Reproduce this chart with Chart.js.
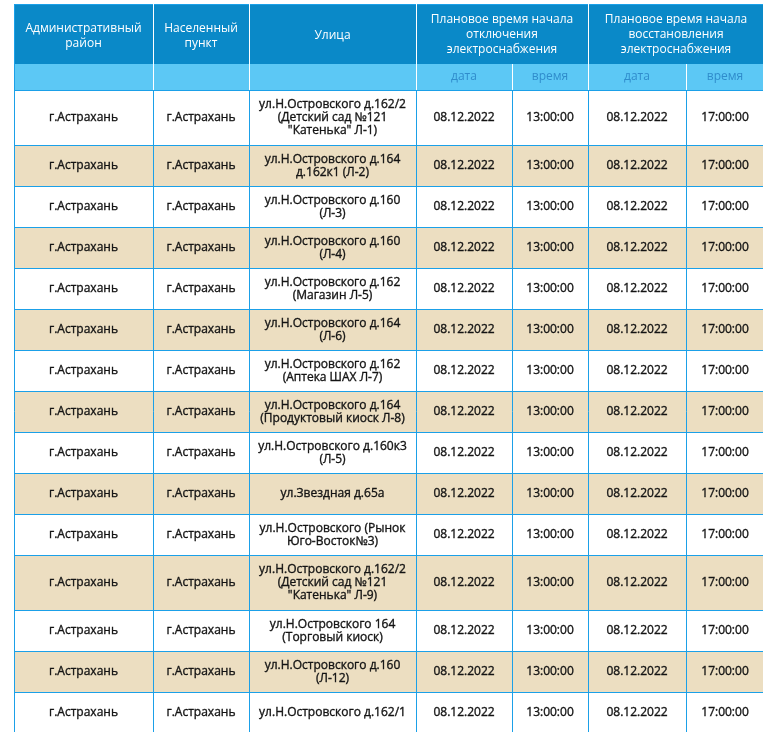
<!DOCTYPE html>
<html>
<head>
<meta charset="utf-8">
<script src="https://cdn.jsdelivr.net/npm/chart.js@4.4.0/dist/chart.umd.min.js"></script>
<style>
  body { margin: 0; background: #fff; }
  #wrap { width: 763px; height: 732px; }
</style>
</head>
<body>
<div id="wrap"><canvas id="tableChart" width="763" height="732"></canvas></div>
<script>
// header texts
const headTitles = ['Административный\nрайон', 'Населенный\nпункт', 'Улица'];
const groupTitles = ['Плановое время начала\nотключения\nэлектроснабжения', 'Плановое время начала\nвосстановления\nэлектроснабжения'];
const subTitles = ['дата', 'время', 'дата', 'время'];

// table rows
const districts = ['г.Астрахань', 'г.Астрахань', 'г.Астрахань', 'г.Астрахань', 'г.Астрахань', 'г.Астрахань', 'г.Астрахань', 'г.Астрахань',
  'г.Астрахань', 'г.Астрахань', 'г.Астрахань', 'г.Астрахань', 'г.Астрахань', 'г.Астрахань', 'г.Астрахань'];
const settlements = ['г.Астрахань', 'г.Астрахань', 'г.Астрахань', 'г.Астрахань', 'г.Астрахань', 'г.Астрахань', 'г.Астрахань', 'г.Астрахань',
  'г.Астрахань', 'г.Астрахань', 'г.Астрахань', 'г.Астрахань', 'г.Астрахань', 'г.Астрахань', 'г.Астрахань'];
const streets = [
  'ул.Н.Островского д.162/2\n(Детский сад №121\n"Катенька" Л-1)',
  'ул.Н.Островского д.164\nд.162к1 (Л-2)',
  'ул.Н.Островского д.160\n(Л-3)',
  'ул.Н.Островского д.160\n(Л-4)',
  'ул.Н.Островского д.162\n(Магазин Л-5)',
  'ул.Н.Островского д.164\n(Л-6)',
  'ул.Н.Островского д.162\n(Аптека ШАХ Л-7)',
  'ул.Н.Островского д.164\n(Продуктовый киоск Л-8)',
  'ул.Н.Островского д.160к3\n(Л-5)',
  'ул.Звездная д.65а',
  'ул.Н.Островского (Рынок\nЮго-Восток№3)',
  'ул.Н.Островского д.162/2\n(Детский сад №121\n"Катенька" Л-9)',
  'ул.Н.Островского 164\n(Торговый киоск)',
  'ул.Н.Островского д.160\n(Л-12)',
  'ул.Н.Островского д.162/1'
];
const offDates = ['08.12.2022', '08.12.2022', '08.12.2022', '08.12.2022', '08.12.2022', '08.12.2022', '08.12.2022', '08.12.2022',
  '08.12.2022', '08.12.2022', '08.12.2022', '08.12.2022', '08.12.2022', '08.12.2022', '08.12.2022'];
const offTimes = ['13:00:00', '13:00:00', '13:00:00', '13:00:00', '13:00:00', '13:00:00', '13:00:00', '13:00:00',
  '13:00:00', '13:00:00', '13:00:00', '13:00:00', '13:00:00', '13:00:00', '13:00:00'];
const onDates = ['08.12.2022', '08.12.2022', '08.12.2022', '08.12.2022', '08.12.2022', '08.12.2022', '08.12.2022', '08.12.2022',
  '08.12.2022', '08.12.2022', '08.12.2022', '08.12.2022', '08.12.2022', '08.12.2022', '08.12.2022'];
const onTimes = ['17:00:00', '17:00:00', '17:00:00', '17:00:00', '17:00:00', '17:00:00', '17:00:00', '17:00:00',
  '17:00:00', '17:00:00', '17:00:00', '17:00:00', '17:00:00', '17:00:00', '17:00:00'];

// layout (table units = scale units)
const tableLeft = 14, tableTop = 4;
const colWidths = [139, 96, 167, 96, 76, 98, 78];
const headH = 60, subH = 26;
const lineH = 13, minRowH = 41;

const C = {
  head: '#0a89c8', sub: '#5cc8f5', beige: '#ecdec1', border: '#1ba0e8',
  text: '#141414', subText: '#2f8ccc'
};

const colEdges = [tableLeft];
colWidths.forEach(w => colEdges.push(colEdges[colEdges.length - 1] + w));
const tableRight = colEdges[colEdges.length - 1];
const bodyTop = tableTop + headH + subH;
const rowEdges = [bodyTop];
streets.forEach(s => {
  const n = s.split('\n').length;
  rowEdges.push(rowEdges[rowEdges.length - 1] + (n > 2 ? n * lineH + 16 : minRowH));
});

const tablePlugin = {
  id: 'tablePlugin',
  afterDraw(chart) {
    const ctx = chart.ctx;
    const X = v => chart.scales.x.getPixelForValue(v);
    const Y = v => chart.scales.y.getPixelForValue(v);
    const rect = (x0, y0, x1, y1, c) => {
      ctx.fillStyle = c;
      ctx.fillRect(X(x0), Y(y0), X(x1) - X(x0), Y(y1) - Y(y0));
    };
    const vline = (x, y0, y1, c) => {
      ctx.strokeStyle = c; ctx.lineWidth = 1;
      ctx.beginPath(); ctx.moveTo(Math.round(X(x)) + 0.5, Y(y0)); ctx.lineTo(Math.round(X(x)) + 0.5, Y(y1)); ctx.stroke();
    };
    const hline = (y, x0, x1, c) => {
      ctx.strokeStyle = c; ctx.lineWidth = 1;
      ctx.beginPath(); ctx.moveTo(X(x0), Math.round(Y(y)) + 0.5); ctx.lineTo(X(x1), Math.round(Y(y)) + 0.5); ctx.stroke();
    };
    const text = (str, cx, cy, lh, font, color, heavy) => {
      const lines = str.split('\n');
      ctx.font = font; ctx.fillStyle = color; ctx.strokeStyle = color; ctx.lineWidth = 0.35;
      ctx.textAlign = 'center'; ctx.textBaseline = 'middle';
      lines.forEach((l, i) => {
        const y = Y(cy) + (i - (lines.length - 1) / 2) * lh;
        ctx.fillText(l, X(cx), y);
        if (heavy) ctx.strokeText(l, X(cx), y);
      });
    };

    ctx.save();
    // header backgrounds
    rect(tableLeft, tableTop, tableRight, tableTop + headH, C.head);
    rect(tableLeft, tableTop + headH, tableRight, bodyTop, C.sub);
    // body backgrounds
    for (let r = 0; r < streets.length; r++) {
      rect(tableLeft, rowEdges[r], tableRight, rowEdges[r + 1], r % 2 ? C.beige : '#ffffff');
    }
    // body grid
    for (let r = 0; r <= streets.length; r++) hline(rowEdges[r], tableLeft, tableRight, C.border);
    colEdges.forEach(x => vline(x, bodyTop, rowEdges[rowEdges.length - 1], C.border));
    // header grid
    hline(tableTop, tableLeft, tableRight, C.border);
    vline(tableLeft, tableTop, bodyTop, C.border);
    [1, 2, 3, 5].forEach(i => vline(colEdges[i], tableTop, bodyTop, '#ffffff'));
    [4, 6].forEach(i => vline(colEdges[i], tableTop + headH, bodyTop, '#ffffff'));

    // header text
    const hFont = '12px "Open Sans"';
    headTitles.forEach((t, i) => text(t, (colEdges[i] + colEdges[i + 1]) / 2, tableTop + headH / 2 + 2, 15, hFont, '#ffffff'));
    groupTitles.forEach((t, g) => {
      const a = colEdges[3 + g * 2], b = colEdges[5 + g * 2];
      text(t, (a + b) / 2, tableTop + headH / 2 + 1, 15, hFont, '#ffffff');
    });
    subTitles.forEach((t, i) => text(t, (colEdges[3 + i] + colEdges[4 + i]) / 2, tableTop + headH + subH / 2, 15, '12px "Open Sans"', C.subText));

    // body text
    const cols = [districts, settlements, streets, offDates, offTimes, onDates, onTimes];
    const bFont = '12px "Open Sans"';
    for (let r = 0; r < streets.length; r++) {
      const cy = (rowEdges[r] + rowEdges[r + 1]) / 2 + 0.5;
      cols.forEach((arr, c) => text(arr[r], (colEdges[c] + colEdges[c + 1]) / 2, cy, lineH, bFont, C.text, true));
    }
    ctx.restore();
  }
};

new Chart(document.getElementById('tableChart'), {
  type: 'scatter',
  data: { datasets: [{ data: [], pointRadius: 0 }] },
  options: {
    responsive: false,
    animation: false,
    layout: { padding: 0 },
    plugins: { legend: { display: false }, tooltip: { enabled: false } },
    scales: {
      x: { type: 'linear', min: 0, max: 763, display: false },
      y: { type: 'linear', min: 0, max: 732, reverse: true, display: false }
    }
  },
  plugins: [tablePlugin]
});
</script>
</body>
</html>
